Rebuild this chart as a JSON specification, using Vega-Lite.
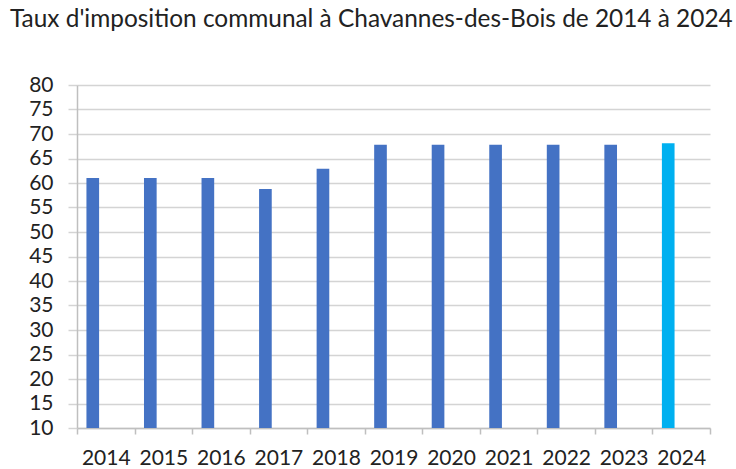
{
  "$schema": "https://vega.github.io/schema/vega-lite/v6.json",
  "autosize": "none",
  "width": 633,
  "height": 343,
  "padding": {"left": 77, "top": 85, "right": 26, "bottom": 41},
  "background": "white",
  "title": {
    "text": "Taux d'imposition communal à Chavannes-des-Bois de 2014 à 2024",
    "anchor": "start",
    "frame": "group",
    "dx": -67,
    "offset": 23,
    "baseline": "alphabetic",
    "font": "Lato",
    "fontSize": 24.4,
    "fontWeight": "normal",
    "color": "#222222"
  },
  "config": {
    "view": {"stroke": null},
    "axis": {"labelFont": "Lato", "labelFontSize": 21, "labelColor": "#222222"}
  },
  "data": {
    "values": [
      {"annee": "2014", "taux": 61.0, "groupe": "passe"},
      {"annee": "2015", "taux": 61.0, "groupe": "passe"},
      {"annee": "2016", "taux": 61.0, "groupe": "passe"},
      {"annee": "2017", "taux": 58.8, "groupe": "passe"},
      {"annee": "2018", "taux": 62.9, "groupe": "passe"},
      {"annee": "2019", "taux": 67.8, "groupe": "passe"},
      {"annee": "2020", "taux": 67.8, "groupe": "passe"},
      {"annee": "2021", "taux": 67.8, "groupe": "passe"},
      {"annee": "2022", "taux": 67.8, "groupe": "passe"},
      {"annee": "2023", "taux": 67.8, "groupe": "passe"},
      {"annee": "2024", "taux": 68.1, "groupe": "actuel"}
    ]
  },
  "mark": {"type": "bar", "width": {"band": 0.22}},
  "encoding": {
    "x": {
      "field": "annee",
      "type": "ordinal",
      "scale": {"paddingInner": 0, "paddingOuter": 0},
      "axis": {
        "title": null,
        "labelAngle": 0,
        "tickBand": "extent",
        "domainColor": "#bfbfbf",
        "domainWidth": 1.5,
        "tickColor": "#bfbfbf",
        "tickWidth": 1.5,
        "tickSize": 6,
        "labelPadding": 30,
        "labelBaseline": "alphabetic"
      }
    },
    "xOffset": {"value": -13},
    "y": {
      "field": "taux",
      "type": "quantitative",
      "scale": {"domain": [10, 80], "nice": false, "zero": false, "clamp": true},
      "axis": {
        "title": null,
        "values": [10, 15, 20, 25, 30, 35, 40, 45, 50, 55, 60, 65, 70, 75, 80],
        "grid": true,
        "gridColor": "#d4d4d4",
        "gridWidth": 1.5,
        "domainColor": "#bfbfbf",
        "domainWidth": 1.5,
        "tickColor": "#d4d4d4",
        "tickWidth": 1.5,
        "tickSize": 9,
        "labelPadding": 15
      }
    },
    "color": {
      "field": "groupe",
      "type": "nominal",
      "scale": {"domain": ["passe", "actuel"], "range": ["#4472C4", "#00B0F0"]},
      "legend": null
    }
  }
}
